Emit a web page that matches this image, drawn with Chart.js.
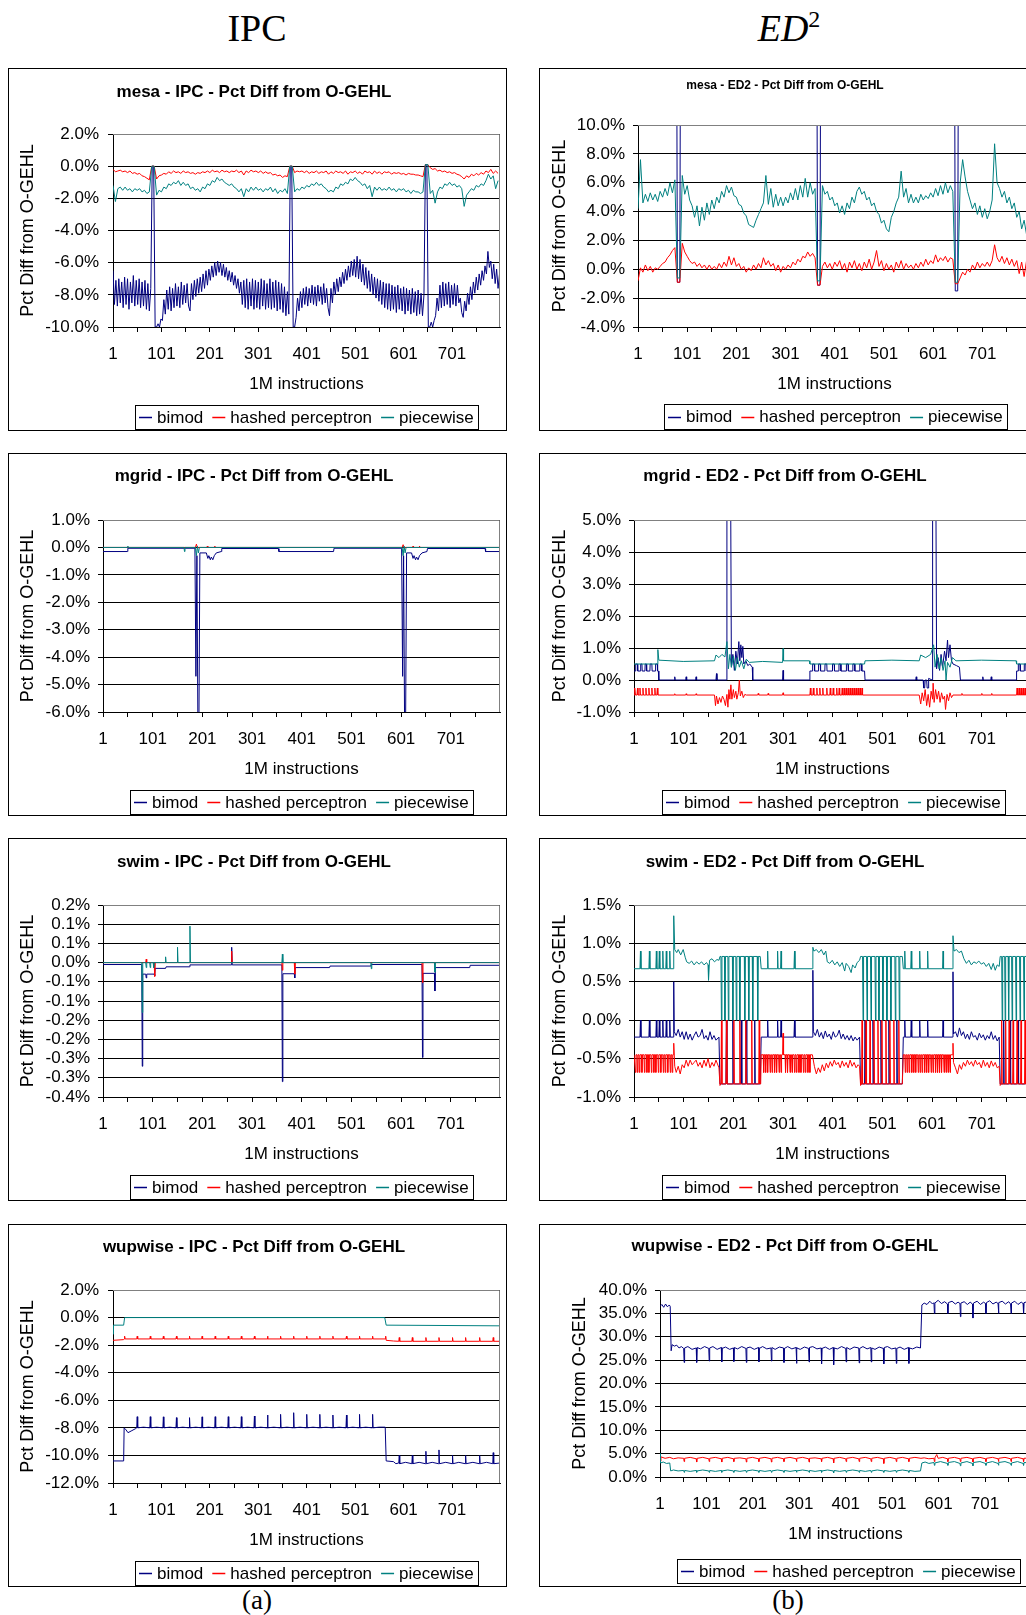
<!DOCTYPE html>
<html><head><meta charset="utf-8"><title>Pct Diff from O-GEHL</title>
<script src="https://cdn.jsdelivr.net/npm/chart.js@4.4.1/dist/chart.umd.min.js"></script>
<style>
html,body{margin:0;padding:0;background:#fff;width:1026px;height:1615px;overflow:hidden;position:relative;}
.hdr{position:absolute;width:514px;text-align:center;font-family:"Liberation Serif","DejaVu Serif",serif;color:#000;}
.frame{position:absolute;box-sizing:border-box;border:1px solid #000;pointer-events:none;}
canvas{position:absolute;}
</style></head><body>
<div class="hdr" style="left:0;top:6px;font-size:38px;line-height:44px;">IPC</div>
<div class="hdr" style="left:532px;top:6px;font-size:38px;line-height:44px;"><i>ED</i><span style="font-size:24px;position:relative;top:-14px;">2</span></div>
<div class="hdr" style="left:0;top:1585px;font-size:27px;line-height:30px;">(a)</div>
<div class="hdr" style="left:531px;top:1585px;font-size:27px;line-height:30px;">(b)</div>
<script>
// ---------------- shared categories / ticks ----------------
const seriesNames = ['bimod', 'hashed perceptron', 'piecewise'];
const colors = ['#000080', '#FF0000', '#008080'];
const xTickValues = [1,51,101,151,201,251,301,351,401,451,501,551,601,651,701,751];
const xTickLabels = ['1','','101','','201','','301','','401','','501','','601','','701',''];

// ---------------- mesa (sampled every 5 intervals) ----------------
const mesaX = [1,6,11,16,21,26,31,36,41,46,51,56,61,66,71,76,81,86,91,96,101,106,111,116,121,126,131,136,141,146,151,156,161,166,171,176,181,186,191,196,201,206,211,216,221,226,231,236,241,246,251,256,261,266,271,276,281,286,291,296,301,306,311,316,321,326,331,336,341,346,351,356,361,366,371,376,381,386,391,396,401,406,411,416,421,426,431,436,441,446,451,456,461,466,471,476,481,486,491,496,501,506,511,516,521,526,531,536,541,546,551,556,561,566,571,576,581,586,591,596,601,606,611,616,621,626,631,636,641,646,651,656,661,666,671,676,681,686,691,696,701,706,711,716,721,726,731,736,741,746,751,756,761,766,771,776,781,786,791,796];

const mesaIpcYTicks = [-10,-8,-6,-4,-2,0,2];
const mesaIpcYLabels = ['-10.0%','-8.0%','-6.0%','-4.0%','-2.0%','0.0%','2.0%'];
// bimod read every 3 intervals ([instruction, value])
const mesaIpcBimod = [[1,-6.5],[4,-8.6],[7,-7.1],[10,-8.7],[13,-7.0],[16,-8.5],[19,-7.2],[22,-8.8],[25,-6.9],[28,-8.6],[31,-7.0],[34,-8.9],[37,-7.2],[40,-8.5],[43,-6.8],[46,-8.7],[49,-7.1],[52,-8.6],[55,-7.0],[58,-8.8],[61,-7.2],[64,-8.7],[67,-7.1],[70,-8.9],[73,-7.3],[76,-9.0],[79,-7.6],[82,0],[85,0],[88,-10],[91,-10],[94,-9.8],[97,-10],[100,-9.5],
[103,-9.6],[106,-8.3],[109,-9.2],[112,-7.7],[115,-8.9],[118,-7.5],[121,-9.0],[124,-7.6],[127,-8.8],[130,-7.3],[133,-8.7],[136,-7.5],[139,-8.8],[142,-7.2],[145,-8.6],[148,-7.4],[151,-8.5],[154,-7.3],[157,-8.7],[160,-9.0],[163,-7.3],[166,-8.3],[169,-7.1],[172,-8.1],[175,-7.0],[178,-7.9],[181,-6.9],[184,-7.8],[187,-6.7],[190,-7.6],[193,-6.5],[196,-7.4],[199,-6.4],
[202,-7.1],[205,-6.2],[208,-6.9],[211,-6.0],[214,-6.8],[217,-5.9],[220,-6.6],[223,-6.0],[226,-6.8],[229,-6.1],[232,-6.9],[235,-6.3],[238,-7.1],[241,-6.5],[244,-7.2],[247,-6.6],[250,-7.4],[253,-6.8],[256,-7.6],[259,-7.0],[262,-7.9],[265,-7.2],[268,-8.6],[271,-7.1],[274,-8.8],[277,-7.0],[280,-8.9],[283,-7.2],[286,-8.7],[289,-7.0],[292,-8.9],[295,-7.1],[298,-8.8],
[301,-7.2],[304,-8.9],[307,-7.0],[310,-8.7],[313,-7.1],[316,-8.9],[319,-7.3],[322,-8.8],[325,-7.0],[328,-8.9],[331,-7.2],[334,-8.8],[337,-7.1],[340,-9.0],[343,-7.2],[346,-8.9],[349,-7.3],[352,-9.1],[355,-7.5],[358,-9.3],[361,-7.8],[364,-9.2],[367,0],[370,0],[373,-10],[376,-10],[379,-9.4],[382,-8.2],[385,-9.0],[388,-7.8],[391,-8.8],[394,-7.6],[397,-8.6],
[400,-7.5],[403,-8.7],[406,-7.6],[409,-8.5],[412,-7.4],[415,-8.6],[418,-7.5],[421,-8.7],[424,-7.4],[427,-8.4],[430,-7.5],[433,-8.6],[436,-7.3],[439,-8.5],[442,-7.6],[445,-8.8],[448,-9.3],[451,-7.6],[454,-8.5],[457,-7.2],[460,-8.0],[463,-7.0],[466,-7.8],[469,-6.9],[472,-7.5],[475,-6.6],[478,-7.3],[481,-6.4],[484,-7.1],[487,-6.2],[490,-6.9],[493,-5.9],[496,-6.8],[499,-5.8],
[502,-6.9],[505,-5.6],[508,-7.0],[511,-5.8],[514,-7.2],[517,-6.1],[520,-7.4],[523,-6.3],[526,-7.6],[529,-6.5],[532,-7.8],[535,-6.7],[538,-8.0],[541,-6.9],[544,-8.2],[547,-7.0],[550,-8.4],[553,-7.1],[556,-8.6],[559,-7.2],[562,-8.8],[565,-7.3],[568,-8.9],[571,-7.3],[574,-9.0],[577,-7.4],[580,-8.9],[583,-7.5],[586,-9.1],[589,-7.4],[592,-8.9],[595,-7.6],[598,-9.0],
[601,-7.5],[604,-9.2],[607,-7.6],[610,-9.0],[613,-7.7],[616,-9.2],[619,-7.6],[622,-9.1],[625,-7.8],[628,-9.3],[631,-7.7],[634,-9.2],[637,-7.9],[640,-9.3],[643,-8.0],[646,0.1],[649,0.1],[652,-10],[655,-10],[658,-9.7],[661,-10],[664,-9.6],[667,-9.3],[670,-8.2],[673,-9.0],[676,-7.4],[679,-8.8],[682,-7.2],[685,-8.7],[688,-7.3],[691,-8.6],[694,-7.2],[697,-8.8],
[700,-7.4],[703,-8.6],[706,-7.3],[709,-8.7],[712,-7.4],[715,-8.5],[718,-8.2],[721,-9.1],[724,-9.4],[727,-8.4],[730,-9.0],[733,-7.9],[736,-8.6],[739,-7.5],[742,-8.3],[745,-7.2],[748,-7.9],[751,-6.9],[754,-7.7],[757,-6.7],[760,-7.4],[763,-6.5],[766,-7.1],[769,-6.2],[772,-6.7],[775,-5.3],[778,-6.3],[781,-5.9],[784,-7.0],[787,-6.1],[790,-7.3],[793,-6.4],[796,-7.6],[799,-6.7]];
const mesaIpcHashed = [
-0.2,-0.35,-0.3,-0.25,-0.35,-0.3,-0.4,-0.3,-0.45,-0.4,
-0.5,-0.45,-0.6,-0.65,-0.75,-0.85,0,0,-0.8,-0.6,
-0.55,-0.45,-0.5,-0.35,-0.45,-0.3,-0.4,-0.35,-0.45,-0.3,
-0.4,-0.35,-0.45,-0.4,-0.5,-0.4,-0.45,-0.35,-0.4,-0.3,
-0.4,-0.25,-0.35,-0.3,-0.4,-0.25,-0.35,-0.3,-0.4,-0.3,
-0.35,-0.25,-0.4,-0.3,-0.55,-0.3,-0.4,-0.25,-0.35,-0.3,
-0.4,-0.3,-0.45,-0.35,-0.45,-0.4,-0.55,-0.5,-0.6,-0.55,
-0.7,-0.6,-0.65,0,0,-0.4,-0.3,-0.35,-0.3,-0.4,
-0.3,-0.45,-0.35,-0.4,-0.3,-0.45,-0.35,-0.4,-0.3,-0.5,
-0.35,-0.45,-0.3,-0.4,-0.35,-0.45,-0.3,-0.5,-0.35,-0.4,
-0.3,-0.45,-0.35,-0.5,-0.3,-0.4,-0.35,-0.5,-0.3,-0.45,
-0.35,-0.5,-0.35,-0.4,-0.35,-0.5,-0.4,-0.45,-0.4,-0.5,
-0.45,-0.55,-0.45,-0.5,-0.5,-0.55,-0.55,-0.6,-0.65,0.1,
0.1,-0.1,-0.2,-0.15,-0.3,-0.25,-0.35,-0.3,-0.4,-0.35,
-0.45,-0.4,-0.5,-0.55,-0.65,-0.8,-0.6,-0.7,-0.5,-0.6,
-0.45,-0.55,-0.4,-0.5,-0.3,-0.4,-0.2,-0.45,-0.3,-0.45];
const mesaIpcPiecewise = [
-1.2,-2.2,-1.4,-1.3,-1.5,-1.3,-1.5,-1.4,-1.6,-1.4,
-1.5,-1.4,-1.6,-1.5,-1.7,-1.6,0,0,-1.8,-1.5,
-1.6,-1.3,-1.4,-1.1,-1.2,-1.0,-1.1,-0.9,-1.2,-1.0,
-1.2,-1.1,-1.4,-1.3,-1.5,-1.4,-1.6,-1.3,-1.4,-1.1,
-1.2,-0.9,-1.0,-0.7,-0.9,-0.8,-1.0,-1.1,-1.2,-1.1,
-1.3,-1.4,-1.6,-1.4,-1.9,-1.4,-1.6,-1.3,-1.5,-1.3,
-1.5,-1.4,-1.6,-1.4,-1.5,-1.3,-1.6,-1.4,-1.7,-1.5,
-1.6,-1.4,-1.7,0,0,-1.6,-1.4,-1.5,-1.3,-1.4,
-1.2,-1.3,-1.1,-1.2,-1.0,-1.2,-1.1,-1.3,-1.4,-1.6,
-1.5,-1.6,-1.3,-1.4,-1.1,-1.2,-1.0,-1.1,-0.8,-0.9,
-0.7,-0.9,-1.0,-1.2,-1.1,-1.4,-1.2,-1.9,-1.3,-1.5,
-1.3,-1.5,-1.4,-1.5,-1.3,-1.5,-1.4,-1.6,-1.4,-1.5,
-1.4,-1.6,-1.5,-1.7,-1.5,-1.6,-1.6,-1.7,-1.6,0.1,
0.1,-1.7,-1.5,-2.3,-1.6,-1.3,-1.4,-1.1,-1.2,-1.0,
-1.2,-1.1,-1.3,-1.2,-1.4,-2.5,-1.8,-1.6,-1.4,-1.5,
-1.2,-1.3,-1.1,-1.2,-0.9,-0.5,-0.8,-0.6,-1.4,-0.9];

const mesaEd2YTicks = [-4,-2,0,2,4,6,8,10];
const mesaEd2YLabels = ['-4.0%','-2.0%','0.0%','2.0%','4.0%','6.0%','8.0%','10.0%'];
const mesaEd2Bimod = [[1,25],[79,25],[81,-0.9],[86,-0.9],[88,25],[364,25],[366,-1.1],[371,-1.1],[373,25],[644,25],[646,-1.5],[651,-1.5],[653,25],[800,25]];
const mesaEd2Hashed = [
-0.8,0.1,-0.2,0.3,-0.1,0.2,-0.2,0.1,0.0,0.2,
0.4,0.5,0.8,1.0,1.3,1.5,-0.9,-0.9,1.8,1.2,
0.9,0.6,0.4,0.5,0.2,0.4,0.1,0.3,0.0,0.3,
0.0,0.2,0.0,0.4,0.1,0.5,0.2,0.9,0.3,0.8,
0.2,0.4,0.0,0.2,-0.2,0.1,-0.1,0.3,0.0,0.4,
0.1,0.8,0.3,0.6,0.2,0.4,-0.1,0.3,-0.2,0.2,
0.0,0.3,0.1,0.5,0.3,0.7,0.5,0.9,0.8,1.2,
0.9,1.1,0.8,-1.1,-1.1,0.2,0.5,0.1,0.4,0.0,
0.5,0.2,0.6,0.0,0.4,-0.2,0.5,0.1,0.6,0.0,
0.4,-0.1,0.5,0.1,0.7,0.0,0.5,1.3,0.2,0.6,
-0.1,0.4,0.0,0.3,-0.2,0.5,0.1,0.6,0.0,0.4,
0.1,0.3,0.0,0.4,0.1,0.5,0.2,0.7,0.3,0.6,
0.4,1.0,0.5,0.8,0.6,0.9,0.5,0.8,0.7,-1.0,
-1.0,-0.6,-0.2,-0.4,0.0,-0.2,0.3,0.0,0.5,0.1,
0.4,0.2,0.5,0.2,0.6,1.7,0.8,0.5,0.9,0.4,
0.8,0.3,0.7,0.2,0.6,-0.3,0.5,-0.5,0.6,0.1];
const mesaEd2Piecewise = [
4.2,7.6,4.6,5.2,4.7,5.3,4.8,5.2,4.7,5.4,
5.0,5.6,5.1,6.0,5.3,6.2,-0.6,-0.6,6.5,5.2,
5.8,4.8,4.4,3.6,4.4,3.0,4.3,3.4,4.6,3.8,
4.8,4.2,5.0,4.6,5.4,5.0,5.8,5.3,5.7,5.1,
5.0,4.5,4.4,3.9,3.7,3.1,3.0,2.9,3.4,3.8,
4.2,4.6,6.5,4.5,5.6,4.3,5.2,4.4,5.0,4.4,
5.0,4.6,5.3,4.8,5.6,4.8,5.8,5.0,6.3,5.0,
6.0,5.2,5.6,-0.8,-0.8,5.8,5.2,5.4,4.8,5.0,
4.4,4.6,3.9,4.4,3.8,4.6,4.2,5.0,4.6,5.4,
5.7,5.2,5.4,4.8,5.0,4.4,4.6,4.0,3.8,3.2,
3.4,2.8,2.6,3.6,4.0,4.6,5.0,6.8,5.0,5.6,
4.6,5.2,4.6,5.0,4.6,5.2,4.8,5.1,4.9,5.3,
5.0,5.6,5.1,5.8,5.2,6.0,5.3,5.8,5.4,-0.9,
-0.9,6.0,7.6,6.4,5.4,4.8,4.2,4.6,3.8,4.4,
3.6,4.2,3.5,4.0,4.8,8.7,6.0,5.6,5.0,5.4,
4.6,5.0,4.2,4.6,3.6,4.0,2.8,3.4,2.4,4.5];

// ---------------- mgrid ----------------
const mgridIpcYTicks = [-6,-5,-4,-3,-2,-1,0,1];
const mgridIpcYLabels = ['-6.0%','-5.0%','-4.0%','-3.0%','-2.0%','-1.0%','0.0%','1.0%'];
const mgridIpcBimod = [[1,-0.15],[50,-0.15],[51,-0.03],[186,-0.03],[188,-4.7],[190,-0.3],[192,-6.5],[194,-6.5],[196,-0.2],[209,-0.2],[212,-0.4],[214,-0.3],[217,-0.45],[219,-0.35],[222,-0.45],[225,-0.3],[229,-0.2],[239,-0.15],[240,-0.04],[354,-0.04],[355,-0.15],[465,-0.15],[466,-0.03],[602,-0.03],[604,-4.7],[606,-0.3],[608,-6.5],[610,-6.5],[612,-0.2],[622,-0.2],[625,-0.4],[627,-0.3],[630,-0.45],[632,-0.35],[635,-0.45],[638,-0.3],[643,-0.2],[653,-0.15],[654,-0.04],[770,-0.04],[771,-0.15],[800,-0.15]];
const mgridIpcHashed = [[1,0],[187,0],[189,0.12],[191,0],[210,0],[211,0.05],[212,0],[225,0],[226,0.05],[227,0],[603,0],[605,0.1],[607,0],[624,0],[625,0.05],[626,0],[637,0],[638,0.05],[639,0],[800,0]];
const mgridIpcPiecewise = [[1,0],[50,0],[51,0.05],[52,0],[164,0],[165,-0.15],[166,0],[187,0],[189,-0.3],[191,0.05],[193,-0.2],[195,0],[603,0],[605,-0.3],[607,0.05],[609,-0.2],[611,0],[800,0]];

const mgridEd2YTicks = [-1,0,1,2,3,4,5];
const mgridEd2YLabels = ['-1.0%','0.0%','1.0%','2.0%','3.0%','4.0%','5.0%'];
const mgridEd2Bimod = [[1,0.28],[4,0.28],[4.5,0.5],[8,0.5],[8.5,0.28],[14,0.28],[14.5,0.5],[17,0.5],[17.5,0.28],[23,0.28],[23.5,0.5],[26,0.5],[26.5,0.28],[33,0.28],[33.5,0.5],[37,0.5],[37.5,0.28],[44,0.28],[44.5,0.5],[48,0.5],[48.5,0.28],[50,0.28],[51,0],
[82,0],[83,0.1],[84,0],[105,0],[106,0.1],[107,0],[125,0],[126,0.1],[127,0],[166,0],[167,0.2],[168,0],[187,0],[188,8],[195,8],[197,0.4],[200,0.8],[203,0.3],[206,0.9],[209,0.5],[212,1.2],[214,0.6],[216,1.1],[218,0.7],[220,1.05],[222,0.5],[226,0.6],[230,0.45],[234,0.5],[239,0.4],[240,0],[300,0],[301,0.3],[302,0],[354,0],[355,0.28],
[360,0.28],[360.5,0.5],[364,0.5],[364.5,0.28],[372,0.28],[372.5,0.5],[376,0.5],[376.5,0.28],[385,0.28],[385.5,0.5],[389,0.5],[389.5,0.28],[400,0.28],[400.5,0.5],[404,0.5],[404.5,0.28],[413,0.28],[413.5,0.5],[417,0.5],[417.5,0.28],[428,0.28],[428.5,0.5],[432,0.5],[432.5,0.28],[441,0.28],[441.5,0.5],[445,0.5],[445.5,0.28],[455,0.28],[455.5,0.5],[459,0.5],[459.5,0.28],[465,0.28],[466,0],
[568,0],[569,0.1],[570,0],[583,0],[584,-0.25],[586,-0.25],[587,0],[590,0],[591,-0.25],[593,-0.25],[594,0.05],[601,0],[602,8],[608,8],[610,0.35],[613,0.7],[616,0.3],[619,0.8],[622,0.4],[626,0.9],[629,0.6],[632,1.25],[634,0.7],[637,1.1],[640,0.6],[643,0.5],[650,0.45],[656,0.4],[658,0],[702,0],[703,0.1],[704,0],[719,0],[720,0.1],[721,0],[770,0],[771,0.28],[774,0.28],[774.5,0.5],[778,0.5],[778.5,0.28],[786,0.28],[786.5,0.5],[790,0.5],[790.5,0.28],[796,0.28],[796.5,0.5],[800,0.5]];
const mgridEd2Hashed = [[1,-0.47],[2,-0.47],[3,-0.25],[4,-0.47],[7,-0.47],[8,-0.25],[9,-0.47],[12,-0.47],[13,-0.25],[14,-0.47],[18,-0.47],[19,-0.25],[20,-0.47],[24,-0.47],[25,-0.25],[26,-0.47],[30,-0.47],[31,-0.25],[32,-0.47],[36,-0.47],[37,-0.25],[38,-0.47],[42,-0.47],[43,-0.25],[44,-0.47],[47,-0.47],[48,-0.25],[49,-0.47],
[82,-0.47],[83,-0.43],[84,-0.47],[105,-0.47],[106,-0.43],[107,-0.47],[125,-0.47],[126,-0.43],[127,-0.47],[163,-0.47],[165,-0.8],[167,-0.5],[170,-0.75],[173,-0.55],[176,-0.7],[179,-0.5],[182,-0.6],[185,-0.8],[188,-0.45],[190,-0.85],[192,-0.3],[194,-0.6],[196,-0.15],[198,-0.6],[201,-0.3],[203,-0.55],[206,-0.35],[208,-0.6],[211,-0.4],[213,0.0],[215,-0.5],[218,-0.35],[221,-0.55],[224,-0.45],[227,-0.47],[250,-0.47],[251,-0.42],[252,-0.47],[270,-0.47],[271,-0.42],[272,-0.47],[300,-0.47],[301,-0.4],[302,-0.47],
[355,-0.47],[356,-0.25],[357,-0.47],[361,-0.47],[362,-0.25],[363,-0.47],[368,-0.47],[369,-0.25],[370,-0.47],[374,-0.47],[375,-0.25],[376,-0.47],[380,-0.47],[381,-0.25],[382,-0.47],[388,-0.47],[389,-0.25],[390,-0.47],[395,-0.47],[396,-0.25],[397,-0.47],[401,-0.47],[402,-0.25],[403,-0.47],[408,-0.47],[409,-0.25],[410,-0.47],[413,-0.47],[414,-0.25],[415,-0.47],[419,-0.47],[420,-0.25],[421,-0.47],[423,-0.47],[424,-0.25],[425,-0.47],[427,-0.47],[428,-0.25],[429,-0.47],[431,-0.47],[432,-0.25],[433,-0.47],[435,-0.47],[436,-0.25],[437,-0.47],[439,-0.47],[440,-0.25],[441,-0.47],[443,-0.47],[444,-0.25],[445,-0.47],[447,-0.47],[448,-0.25],[449,-0.47],[451,-0.47],[452,-0.25],[453,-0.47],[455,-0.47],[456,-0.25],[457,-0.47],[459,-0.47],[460,-0.25],[461,-0.47],
[575,-0.47],[578,-0.75],[581,-0.4],[584,-0.65],[587,-0.3],[590,-0.8],[593,-0.45],[596,-0.85],[599,-0.35],[602,-0.6],[603,-0.1],[605,-0.7],[608,-0.3],[611,-0.6],[614,-0.35],[617,-0.7],[620,-0.4],[623,-0.6],[626,-0.5],[628,-0.92],[631,-0.45],[634,-0.65],[637,-0.4],[640,-0.55],[643,-0.47],[660,-0.47],[661,-0.42],[662,-0.47],[700,-0.47],[701,-0.42],[702,-0.47],[720,-0.47],[721,-0.42],[722,-0.47],
[771,-0.47],[772,-0.25],[773,-0.47],[775,-0.47],[776,-0.25],[777,-0.47],[779,-0.47],[780,-0.25],[781,-0.47],[783,-0.47],[784,-0.25],[785,-0.47],[787,-0.47],[788,-0.25],[789,-0.47],[791,-0.47],[792,-0.25],[793,-0.47],[795,-0.47],[796,-0.25],[797,-0.47],[800,-0.47]];
const mgridEd2Piecewise = [[1,0.5],[48,0.5],[49,0.95],[51,0.62],[100,0.58],[163,0.6],[166,0.78],[172,0.7],[178,0.8],[184,0.72],[188,1.2],[191,0.35],[194,0.8],[197,0.4],[201,0.75],[205,0.3],[209,0.7],[213,0.4],[217,0.6],[222,0.35],[227,0.65],[233,0.55],[260,0.58],[300,0.55],[301,0.98],[302,0.6],[354,0.6],[355,0.5],[465,0.5],[466,0.6],[520,0.62],[575,0.6],[578,0.78],[588,0.7],[598,0.8],[604,1.1],[607,0.4],[611,0.8],[615,0.35],[619,0.7],[623,0.3],[627,0.6],[629,0.0],[632,0.55],[637,0.4],[642,0.7],[649,0.6],[700,0.62],[770,0.6],[771,0.5],[800,0.5]];

// ---------------- swim ----------------
const swimIpcYTicks = [-0.35,-0.3,-0.25,-0.2,-0.15,-0.1,-0.05,0,0.05,0.1,0.15];
const swimIpcYLabels = ['-0.4%','-0.3%','-0.3%','-0.2%','-0.2%','-0.1%','-0.1%','0.0%','0.1%','0.1%','0.2%'];
const swimIpcBimod = [[1,-0.005],[79,-0.005],[80,-0.27],[81,-0.03],[87,-0.03],[88,-0.04],[89,-0.03],[104,-0.03],[105,-0.035],[106,-0.015],[127,-0.015],[128,-0.011],[175,-0.011],[176,-0.006],[259,-0.006],[260,0.04],[261,-0.006],[361,-0.006],[362,-0.31],[363,-0.029],[386,-0.029],[387,-0.04],[388,-0.013],[457,-0.013],[458,-0.009],[540,-0.009],[541,-0.005],[643,-0.005],[644,-0.247],[645,-0.028],[668,-0.028],[669,-0.074],[670,-0.013],[739,-0.013],[740,-0.007],[800,-0.007]];
const swimIpcHashed = [[1,0],[87,0],[88,0.009],[89,0],[104,0],[105,-0.036],[106,0],[259,0],[260,0.03],[261,0],[361,0],[362,-0.02],[363,0],[386,0],[387,-0.03],[388,0],[643,0],[644,-0.052],[645,0],[800,0]];
const swimIpcPiecewise = [[1,0],[79,0],[80,-0.13],[81,0],[87,0],[88,-0.013],[89,0],[95,0],[96,-0.013],[97,0],[102,0],[103,-0.013],[104,0],[126,0],[127,0.015],[128,0],[150,0],[151,0.04],[152,0],[175,0],[176,0.095],[177,0],[361,0],[362,0.022],[363,0],[540,0],[541,-0.016],[542,0],[668,0],[669,-0.025],[670,0],[800,0]];

const swimEd2YTicks = [-1,-0.5,0,0.5,1,1.5];
const swimEd2YLabels = ['-1.0%','-0.5%','0.0%','0.5%','1.0%','1.5%'];
const swimEd2Bimod = [[1,-0.22],[13,-0.22],[14,0],[15,-0.22],[31,-0.22],[32,0],[33,-0.22],[45,-0.22],[46,0],[47,-0.22],[51,-0.22],[52,0],[53,-0.22],[58,-0.22],[59,0],[60,-0.22],[65,-0.22],[66,0],[67,-0.22],[72,-0.22],[73,0],[74,-0.22],[80,-0.22],[81,0.5],[82,-0.15],
[86,-0.2],[90,-0.12],[94,-0.22],[98,-0.15],[102,-0.25],[106,-0.15],[110,-0.25],[114,-0.18],[118,-0.26],[122,-0.2],[126,-0.15],[130,-0.22],[134,-0.2],[138,-0.12],[142,-0.24],[146,-0.2],[150,-0.26],[154,-0.15],[158,-0.25],[162,-0.2],[166,-0.26],[172,-0.22],
[174,-0.83],[186,-0.83],[187,0],[188,-0.83],[199,-0.83],[200,0],[201,-0.83],[216,-0.83],[217,0],[218,-0.83],[226,-0.83],[227,0],[228,-0.83],[243,-0.83],[244,0],[245,-0.83],[255,-0.83],[257,-0.22],
[269,-0.22],[270,0],[271,-0.22],[289,-0.22],[290,0],[291,-0.22],[296,-0.22],[297,0],[298,-0.22],[323,-0.22],[324,0],[325,-0.22],[360,-0.22],[361,0.65],[362,-0.15],
[366,-0.2],[370,-0.12],[374,-0.22],[378,-0.16],[382,-0.24],[386,-0.14],[390,-0.22],[394,-0.18],[398,-0.25],[402,-0.15],[406,-0.22],[410,-0.2],[414,-0.13],[418,-0.24],[422,-0.18],[426,-0.25],[430,-0.2],[434,-0.26],[438,-0.2],[442,-0.27],[446,-0.22],[450,-0.26],[455,-0.22],
[457,-0.83],[465,-0.83],[466,0],[467,-0.83],[481,-0.83],[482,0],[483,-0.83],[497,-0.83],[498,0],[499,-0.83],[513,-0.83],[514,0],[515,-0.83],[529,-0.83],[530,0],[531,-0.83],[541,-0.83],[543,-0.22],
[545,-0.22],[546,0],[547,-0.22],[558,-0.22],[559,0],[560,-0.22],[575,-0.22],[576,0],[577,-0.22],[591,-0.22],[592,0],[593,-0.22],[622,-0.22],[623,0],[624,-0.22],[642,-0.22],[643,0.63],[644,-0.18],
[648,-0.15],[652,-0.22],[656,-0.1],[660,-0.2],[664,-0.15],[668,-0.24],[672,-0.18],[676,-0.25],[680,-0.15],[684,-0.22],[688,-0.2],[692,-0.26],[696,-0.17],[700,-0.23],[704,-0.19],[708,-0.26],[712,-0.2],[716,-0.24],[720,-0.15],[724,-0.25],[728,-0.2],[732,-0.27],[736,-0.22],
[738,-0.83],[744,-0.83],[745,0],[746,-0.83],[757,-0.83],[758,0],[759,-0.83],[773,-0.83],[774,0],[775,-0.83],[789,-0.83],[790,0],[791,-0.83],[800,-0.83]];
const swimEd2Hashed = [[1,-0.45],[3,-0.45],[4,-0.68],[5,-0.45],[7,-0.45],[8,-0.68],[9,-0.45],[11,-0.45],[12,-0.68],[13,-0.45],[16,-0.45],[17,-0.68],[18,-0.45],[21,-0.45],[22,-0.68],[23,-0.45],[26,-0.45],[27,-0.68],[28,-0.45],[30,-0.45],[31,-0.68],[32,-0.45],[35,-0.45],[36,-0.68],[37,-0.45],[40,-0.45],[41,-0.68],[42,-0.45],[44,-0.45],[45,-0.68],[46,-0.45],[49,-0.45],[50,-0.68],[51,-0.45],[54,-0.45],[55,-0.68],[56,-0.45],[59,-0.45],[60,-0.68],[61,-0.45],[63,-0.45],[64,-0.68],[65,-0.45],[68,-0.45],[69,-0.68],[70,-0.45],[73,-0.45],[74,-0.68],[75,-0.45],[77,-0.45],[78,-0.68],[79,-0.45],[80,-0.45],[81,-0.3],[83,-0.6],
[86,-0.68],[90,-0.6],[94,-0.7],[98,-0.58],[102,-0.62],[106,-0.52],[110,-0.6],[114,-0.52],[118,-0.58],[122,-0.55],[126,-0.52],[130,-0.6],[134,-0.55],[138,-0.62],[142,-0.52],[146,-0.6],[150,-0.5],[154,-0.62],[158,-0.55],[162,-0.6],[166,-0.52],[172,-0.62],
[174,-0.85],[176,-0.83],[177,0],[178,-0.83],[186,-0.83],[187,0],[188,-0.83],[201,-0.83],[202,0],[203,-0.83],[213,-0.83],[214,0],[215,-0.83],[225,-0.83],[226,0],[227,-0.83],[237,-0.83],[238,0],[239,-0.83],[252,-0.83],[253,0],[254,-0.83],[256,-0.83],[257,-0.45],
[261,-0.45],[262,-0.68],[263,-0.45],[265,-0.45],[266,-0.68],[267,-0.45],[269,-0.45],[270,-0.68],[271,-0.45],[274,-0.45],[275,-0.68],[276,-0.45],[278,-0.45],[279,-0.68],[280,-0.45],[283,-0.45],[284,-0.68],[285,-0.45],[287,-0.45],[288,-0.68],[289,-0.45],[292,-0.45],[293,-0.68],[294,-0.45],[296,-0.45],[297,-0.68],[298,-0.45],[300,-0.45],[301,-0.17],[302,-0.45],[305,-0.45],[306,-0.68],[307,-0.45],[309,-0.45],[310,-0.68],[311,-0.45],[314,-0.45],[315,-0.68],[316,-0.45],[318,-0.45],[319,-0.68],[320,-0.45],[323,-0.45],[324,-0.68],[325,-0.45],[327,-0.45],[328,-0.68],[329,-0.45],[332,-0.45],[333,-0.68],[334,-0.45],[336,-0.45],[337,-0.68],[338,-0.45],[341,-0.45],[342,-0.68],[343,-0.45],[345,-0.45],[346,-0.68],[347,-0.45],[350,-0.45],[351,-0.68],[352,-0.45],[354,-0.45],[355,-0.68],[356,-0.45],[360,-0.45],
[364,-0.6],[368,-0.7],[372,-0.62],[376,-0.68],[380,-0.58],[384,-0.66],[388,-0.56],[392,-0.62],[396,-0.54],[400,-0.6],[404,-0.52],[408,-0.58],[412,-0.55],[416,-0.62],[420,-0.53],[424,-0.6],[428,-0.55],[432,-0.62],[436,-0.52],[440,-0.6],[444,-0.55],[448,-0.62],[452,-0.58],[455,-0.6],
[457,-0.85],[459,-0.83],[460,0],[461,-0.83],[467,-0.83],[468,0],[469,-0.83],[475,-0.83],[476,0],[477,-0.83],[483,-0.83],[484,0],[485,-0.83],[491,-0.83],[492,0],[493,-0.83],[499,-0.83],[500,0],[501,-0.83],[507,-0.83],[508,0],[509,-0.83],[515,-0.83],[516,0],[517,-0.83],[523,-0.83],[524,0],[525,-0.83],[533,-0.83],[534,0],[535,-0.83],[541,-0.83],[543,-0.45],
[546,-0.45],[547,-0.68],[548,-0.45],[550,-0.45],[551,-0.68],[552,-0.45],[554,-0.45],[555,-0.68],[556,-0.45],[559,-0.45],[560,-0.68],[561,-0.45],[563,-0.45],[564,-0.68],[565,-0.45],[567,-0.45],[568,-0.68],[569,-0.45],[572,-0.45],[573,-0.68],[574,-0.45],[576,-0.45],[577,-0.68],[578,-0.45],[580,-0.45],[581,-0.68],[582,-0.45],[585,-0.45],[586,-0.68],[587,-0.45],[589,-0.45],[590,-0.68],[591,-0.45],[593,-0.45],[594,-0.68],[595,-0.45],[598,-0.45],[599,-0.68],[600,-0.45],[602,-0.45],[603,-0.68],[604,-0.45],[607,-0.45],[608,-0.68],[609,-0.45],[611,-0.45],[612,-0.68],[613,-0.45],[615,-0.45],[616,-0.68],[617,-0.45],[619,-0.45],[620,-0.68],[621,-0.45],[624,-0.45],[625,-0.68],[626,-0.45],[628,-0.45],[629,-0.68],[630,-0.45],[632,-0.45],[633,-0.68],[634,-0.45],[636,-0.45],[637,-0.68],[638,-0.45],[642,-0.45],[643,-0.3],[644,-0.55],
[648,-0.62],[652,-0.7],[656,-0.58],[660,-0.64],[664,-0.55],[668,-0.6],[672,-0.52],[676,-0.58],[680,-0.54],[684,-0.6],[688,-0.52],[692,-0.58],[696,-0.55],[700,-0.62],[704,-0.52],[708,-0.6],[712,-0.55],[716,-0.62],[720,-0.53],[724,-0.6],[728,-0.55],[732,-0.62],[736,-0.6],
[738,-0.85],[740,-0.83],[741,0],[742,-0.83],[748,-0.83],[749,0],[750,-0.83],[755,-0.83],[756,0],[757,-0.83],[763,-0.83],[764,0],[765,-0.83],[771,-0.83],[772,0],[773,-0.83],[779,-0.83],[780,0],[781,-0.83],[787,-0.83],[788,0],[789,-0.83],[795,-0.83],[796,0],[797,-0.83],[800,-0.83]];
const swimEd2Piecewise = [[1,0.67],[13,0.67],[14,0.9],[15,0.67],[31,0.67],[32,0.9],[33,0.67],[45,0.67],[46,0.9],[47,0.67],[51,0.67],[52,0.9],[53,0.67],[58,0.67],[59,0.9],[60,0.67],[65,0.67],[66,0.9],[67,0.67],[72,0.67],[73,0.9],[74,0.67],[80,0.67],[81,1.36],
[83,0.92],[87,0.88],[90,0.92],[95,0.85],[100,0.92],[104,0.82],[107,0.76],[112,0.74],[117,0.77],[122,0.72],[127,0.76],[132,0.73],[137,0.76],[142,0.72],[147,0.75],[150,0.72],[151,0.52],[153,0.78],[158,0.8],[163,0.76],[168,0.79],[172,0.78],
[174,0.83],[176,0.83],[177,0],[178,0.83],[183,0.83],[184,0],[185,0.83],[190,0.83],[191,0],[192,0.83],[199,0.83],[200,0],[201,0.83],[206,0.83],[207,0],[208,0.83],[213,0.83],[214,0],[215,0.83],[223,0.83],[224,0],[225,0.83],[231,0.83],[232,0],[233,0.83],[239,0.83],[240,0],[241,0.83],[249,0.83],[250,0],[251,0.83],[255,0.83],[257,0.67],
[269,0.67],[270,0.9],[271,0.67],[289,0.67],[290,0.9],[291,0.67],[296,0.67],[297,0.9],[298,0.67],[323,0.67],[324,0.9],[325,0.67],[360,0.67],
[361,0.95],[363,0.9],[368,0.92],[373,0.88],[378,0.92],[383,0.85],[387,0.9],[390,0.76],[395,0.74],[400,0.78],[405,0.72],[410,0.76],[415,0.7],[420,0.75],[425,0.64],[428,0.74],[433,0.7],[438,0.62],[441,0.72],[446,0.68],[450,0.75],[455,0.78],
[457,0.83],[461,0.83],[462,0],[463,0.83],[469,0.83],[470,0],[471,0.83],[477,0.83],[478,0],[479,0.83],[486,0.83],[487,0],[488,0.83],[493,0.83],[494,0],[495,0.83],[501,0.83],[502,0],[503,0.83],[509,0.83],[510,0],[511,0.83],[517,0.83],[518,0],[519,0.83],[526,0.83],[527,0],[528,0.83],[534,0.83],[535,0],[536,0.83],[541,0.83],[543,0.67],
[545,0.67],[546,0.9],[547,0.67],[558,0.67],[559,0.9],[560,0.67],[575,0.67],[576,0.9],[577,0.67],[591,0.67],[592,0.9],[593,0.67],[622,0.67],[623,0.9],[624,0.67],[642,0.67],
[643,1.1],[645,0.9],[650,0.92],[655,0.88],[660,0.9],[665,0.8],[670,0.74],[675,0.78],[680,0.72],[685,0.76],[690,0.74],[695,0.77],[700,0.73],[705,0.75],[710,0.7],[715,0.74],[720,0.66],[724,0.74],[728,0.65],[732,0.72],[736,0.7],
[738,0.83],[741,0.83],[742,0],[743,0.83],[747,0.83],[748,0],[749,0.83],[754,0.83],[755,0],[756,0.83],[761,0.83],[762,0],[763,0.83],[769,0.83],[770,0],[771,0.83],[777,0.83],[778,0],[779,0.83],[785,0.83],[786,0],[787,0.83],[793,0.83],[794,0],[795,0.83],[800,0.83]];

// ---------------- wupwise ----------------
const wupIpcYTicks = [-12,-10,-8,-6,-4,-2,0,2];
const wupIpcYLabels = ['-12.0%','-10.0%','-8.0%','-6.0%','-4.0%','-2.0%','0.0%','2.0%'];
const wupIpcBimod = [[1,-10.4],[23,-10.4],[24,-8.0],[27,-8.1],[32,-8.35],[40,-8.2],[48,-8.05],[50,-8.0],[51,-7.19],[52,-8.0],[64,-7.95],[77,-8.0],[78,-7.19],[79,-8.0],[91,-7.95],[104,-8.0],[105,-7.2],[106,-8.0],[118,-7.95],[131,-8.0],[132,-7.26],[133,-8.0],[145,-7.95],[158,-8.0],[159,-7.26],[160,-8.0],[172,-7.95],[184,-8.0],[185,-7.2],[186,-8.0],[198,-7.95],[211,-8.0],[212,-7.19],[213,-8.0],[225,-7.95],[238,-8.0],[239,-7.19],[240,-8.0],[252,-7.95],[265,-8.0],[266,-7.19],[267,-8.0],[279,-7.95],[292,-8.0],[293,-7.14],[294,-8.0],[306,-7.95],[319,-8.0],[320,-7.07],[321,-8.0],[333,-7.95],[346,-8.0],[347,-7.02],[348,-8.0],[360,-7.95],[373,-8.0],[374,-6.9],[375,-8.0],[387,-7.95],[400,-8.0],[401,-7.02],[402,-8.0],[414,-7.95],[427,-8.0],[428,-7.02],[429,-8.0],[441,-7.95],[454,-8.0],[455,-7.07],[456,-8.0],[468,-7.95],[482,-8.0],[483,-7.07],[484,-8.0],[496,-7.95],[509,-8.0],[510,-7.02],[511,-8.0],[523,-7.95],[536,-8.0],[537,-7.02],[538,-8.0],[550,-7.95],[563,-7.95],[565,-10.4],[580,-10.45],[585,-10.6],[591,-10.55],[592,-10.0],[593,-10.6],[605,-10.5],[618,-10.6],[619,-10.0],[620,-10.6],[633,-10.5],[646,-10.6],[647,-9.7],[648,-10.6],[660,-10.5],[673,-10.6],[674,-9.6],[675,-10.6],[688,-10.5],[701,-10.6],[702,-10.0],[703,-10.6],[715,-10.5],[728,-10.6],[729,-10.0],[730,-10.6],[744,-10.5],[757,-10.6],[758,-10.0],[759,-10.6],[772,-10.5],[785,-10.6],[786,-9.8],[787,-10.6],[800,-10.55]];
const wupIpcHashed = [[1,-1.65],[23,-1.6],[24,-1.55],[25,-1.35],[26,-1.55],[50,-1.55],[51,-1.35],[52,-1.55],[77,-1.55],[78,-1.35],[79,-1.55],[104,-1.55],[105,-1.35],[106,-1.55],[131,-1.55],[132,-1.35],[133,-1.55],[158,-1.55],[159,-1.35],[160,-1.55],[184,-1.55],[185,-1.35],[186,-1.55],[211,-1.55],[212,-1.35],[213,-1.55],[238,-1.55],[239,-1.35],[240,-1.55],[265,-1.55],[266,-1.35],[267,-1.55],[292,-1.55],[293,-1.35],[294,-1.55],[319,-1.55],[320,-1.35],[321,-1.55],[346,-1.55],[347,-1.35],[348,-1.55],[373,-1.55],[374,-1.35],[375,-1.55],[400,-1.55],[401,-1.35],[402,-1.55],[427,-1.55],[428,-1.35],[429,-1.55],[454,-1.55],[455,-1.35],[456,-1.55],[482,-1.55],[483,-1.35],[484,-1.55],[509,-1.55],[510,-1.35],[511,-1.55],[536,-1.55],[537,-1.35],[538,-1.55],[563,-1.55],[564,-1.35],[565,-1.65],[580,-1.7],[591,-1.72],[592,-1.45],[593,-1.72],[618,-1.72],[619,-1.45],[620,-1.72],[646,-1.72],[647,-1.45],[648,-1.72],[673,-1.72],[674,-1.45],[675,-1.72],[701,-1.72],[702,-1.45],[703,-1.72],[728,-1.72],[729,-1.45],[730,-1.72],[757,-1.72],[758,-1.45],[759,-1.72],[785,-1.72],[786,-1.45],[787,-1.72],[800,-1.72]];
const wupIpcPiecewise = [[1,-1.2],[2,-0.55],[23,-0.55],[25,0],[562,0],[565,-0.55],[800,-0.6]];

const wupEd2YTicks = [0,5,10,15,20,25,30,35,40];
const wupEd2YLabels = ['0.0%','5.0%','10.0%','15.0%','20.0%','25.0%','30.0%','35.0%','40.0%'];
const wupEd2Bimod = [[1,36.5],[5,36.9],[9,36.3],[13,37.0],[17,36.4],[21,36.8],[23,36.5],[25,27.0],[27,28.3],[32,28.0],[37,28.2],[42,27.6],[47,27.9],
[52,27.5],[53,24.5],[54,27.6],[61,27.9],[70,27.3],[79,27.6],[80,24.5],[81,27.7],[88,27.4],[97,27.9],[106,27.5],[107,24.8],[108,27.6],[115,27.9],[124,27.3],[133,27.7],[134,24.6],[135,27.5],[142,27.8],[151,27.3],[159,27.6],[160,24.7],[161,27.7],[168,27.4],[177,27.9],[186,27.5],[187,24.5],[188,27.6],[195,27.8],[204,27.3],[213,27.7],[214,24.6],[215,27.5],[222,27.9],[231,27.4],[240,27.6],[241,24.8],[242,27.7],[249,27.3],[258,27.8],[267,27.6],[268,24.5],[269,27.5],[276,27.9],[285,27.4],[294,27.7],[295,24.3],[296,27.6],[303,27.3],[312,27.8],[321,27.5],[322,24.6],[323,27.7],[330,27.9],[339,27.4],[348,27.6],[349,24.2],[350,27.5],[357,27.8],[366,27.3],[374,27.7],[375,24.0],[376,27.6],[383,27.4],[392,27.9],[401,27.5],[402,24.6],[403,27.7],[410,27.3],[419,27.8],[429,27.6],[430,24.4],[431,27.5],[438,27.9],[447,27.4],[455,27.7],[456,24.6],[457,27.6],[464,27.3],[473,27.8],[482,27.5],[483,24.2],[484,27.7],[491,27.9],[500,27.4],[509,27.6],[510,24.3],[511,27.5],[518,27.8],[527,27.3],[536,27.7],[537,24.3],[538,27.6],[545,27.4],[554,27.8],[562,27.6],
[565,36.8],[570,37.2],[576,36.9],[582,37.6],[588,37.0],[591,37.3],[592,35.0],[593,37.2],[600,37.8],[607,37.1],[614,37.5],[620,37.0],[621,35.0],[622,37.3],[630,37.6],[637,37.0],[643,37.4],[647,37.1],[648,34.3],[649,37.2],[656,37.5],[663,36.9],[669,37.4],[674,37.0],[675,34.0],[676,37.2],[684,37.6],[691,36.9],[698,37.4],[702,37.1],[703,35.0],[704,37.3],[711,37.7],[718,37.0],[725,37.4],[729,37.1],[730,35.0],[731,37.3],[738,37.6],[745,37.0],[752,37.5],[756,37.0],[757,35.0],[758,37.2],[765,37.6],[772,36.9],[779,37.4],[783,37.1],[784,35.0],[785,37.3],[792,37.5],[800,37.0]];
const wupEd2Hashed = [[1,3.4],[3,4.3],[12,4.0],[22,4.2],[30,3.9],[40,4.1],[52,4.0],[53,3.3],[54,4.0],[66,4.2],[79,3.9],[80,3.2],[81,4.0],[93,4.2],[106,3.9],[107,3.3],[108,4.0],[120,4.2],[133,3.9],[134,3.2],[135,4.0],[147,4.2],[159,3.9],[160,3.3],[161,4.0],[173,4.1],[186,3.9],[187,3.2],[188,4.0],[200,4.2],[213,3.9],[214,3.3],[215,4.0],[227,4.2],[240,3.9],[241,3.2],[242,4.0],[254,4.2],[267,3.9],[268,3.3],[269,4.0],[281,4.2],[294,3.9],[295,3.3],[296,4.0],[308,4.2],[321,3.9],[322,3.2],[323,4.0],[335,4.1],[348,3.9],[349,3.3],[350,4.0],[362,4.2],[374,3.9],[375,3.0],[376,4.0],[388,4.2],[401,3.9],[402,3.3],[403,4.0],[416,4.2],[429,3.9],[430,3.3],[431,4.0],[443,4.2],[455,3.9],[456,3.3],[457,4.0],[469,4.2],[482,3.9],[483,2.9],[484,4.0],[496,4.2],[509,3.9],[510,3.3],[511,4.0],[523,4.2],[536,3.9],[537,3.3],[538,4.0],[550,4.2],[563,4.0],[570,4.1],[580,3.9],[591,4.0],[592,3.3],[593,4.1],[597,4.8],[600,4.0],[610,4.2],[620,3.9],[621,3.3],[622,4.0],[635,4.2],[647,3.9],[648,3.3],[649,4.0],[662,4.2],[674,3.9],[675,3.2],[676,4.0],[690,4.2],[702,3.9],[703,3.3],[704,4.0],[717,4.2],[729,3.9],[730,3.3],[731,4.0],[744,4.2],[756,3.9],[757,3.3],[758,4.0],[771,4.2],[783,3.9],[784,3.3],[785,4.0],[800,4.1]];
const wupEd2Piecewise = [[1,5.0],[2,3.0],[8,3.2],[15,2.9],[22,3.0],[24,1.3],[30,1.5],[40,1.3],[52,1.4],[53,1.0],[54,1.4],[66,1.2],[79,1.4],[80,1.0],[81,1.3],[93,1.5],[106,1.3],[107,1.0],[108,1.4],[120,1.2],[133,1.4],[134,1.0],[135,1.3],[147,1.5],[159,1.3],[160,1.0],[161,1.4],[173,1.2],[186,1.4],[187,1.0],[188,1.3],[200,1.5],[213,1.3],[214,1.0],[215,1.4],[227,1.2],[240,1.4],[241,1.0],[242,1.3],[254,1.5],[267,1.3],[268,1.0],[269,1.4],[281,1.2],[294,1.4],[295,1.0],[296,1.3],[308,1.5],[321,1.3],[322,1.0],[323,1.4],[335,1.2],[348,1.4],[349,1.0],[350,1.3],[362,1.5],[374,1.3],[375,0.9],[376,1.4],[388,1.2],[401,1.4],[402,1.0],[403,1.3],[416,1.5],[429,1.3],[430,1.0],[431,1.4],[443,1.2],[455,1.4],[456,1.0],[457,1.3],[469,1.5],[482,1.3],[483,1.0],[484,1.4],[496,1.2],[509,1.4],[510,1.0],[511,1.3],[523,1.5],[536,1.3],[537,1.0],[538,1.4],[550,1.2],[562,1.3],[565,3.0],[572,3.2],[580,2.9],[591,3.1],[592,2.5],[593,3.0],[605,3.3],[620,2.9],[621,2.5],[622,3.1],[635,3.3],[647,2.9],[648,2.4],[649,3.0],[662,3.3],[674,2.9],[675,2.4],[676,3.1],[690,3.3],[702,2.9],[703,2.5],[704,3.0],[717,3.3],[729,2.9],[730,2.5],[731,3.1],[744,3.3],[756,2.9],[757,2.5],[758,3.0],[771,3.3],[783,2.9],[784,2.5],[785,3.1],[800,3.0]];

// ---------------- helpers ----------------
function zipXY(xs, ys) { return xs.map((x, i) => ({ x: x, y: ys[i] })); }
function pairs(a) { return a.map(p => ({ x: p[0], y: p[1] })); }

Chart.defaults.font.family = '"Liberation Sans", Arial, sans-serif';
Chart.defaults.color = '#000';

const framePlugin = {
  id: 'frameLegend',
  afterDraw(chart, args, opts) {
    const ctx = chart.ctx, a = chart.chartArea;
    ctx.save();
    ctx.strokeStyle = '#808080'; ctx.lineWidth = 1;
    const t = Math.round(a.top) + 0.5, r = Math.round(a.right) - 0.5;
    ctx.beginPath();
    ctx.moveTo(Math.round(a.left), t); ctx.lineTo(r, t); ctx.lineTo(r, Math.round(a.bottom));
    ctx.stroke();
    ctx.font = '17px "Liberation Sans", Arial, sans-serif';
    const lineLen = 13, gapLT = 5, itemGap = 9, padL = 4, padR = 4;
    const widths = seriesNames.map(n => ctx.measureText(n).width);
    let total = padL + padR;
    widths.forEach((w, i) => { total += lineLen + gapLT + w + (i ? itemGap : 0); });
    total = Math.round(total);
    const x0 = Math.round(opts.cx - total / 2), top = opts.top, bot = opts.bottom, cy = (top + bot) / 2;
    ctx.fillStyle = '#fff'; ctx.fillRect(x0, top, total, bot - top);
    ctx.strokeStyle = '#000'; ctx.lineWidth = 1; ctx.strokeRect(x0 + 0.5, top + 0.5, total, bot - top);
    let cx = x0 + padL;
    seriesNames.forEach((n, i) => {
      ctx.strokeStyle = colors[i]; ctx.lineWidth = 1.5;
      ctx.beginPath(); ctx.moveTo(cx, Math.round(cy) + 0.5); ctx.lineTo(cx + lineLen, Math.round(cy) + 0.5); ctx.stroke();
      cx += lineLen + gapLT;
      ctx.fillStyle = '#000'; ctx.textBaseline = 'middle'; ctx.textAlign = 'left';
      ctx.fillText(n, cx, cy + 1);
      cx += widths[i] + itemGap;
    });
    ctx.restore();
  }
};

const PANEL_W = 499, PANEL_H = 363;
function buildPanel(p) {
  const cv = document.createElement('canvas');
  cv.width = PANEL_W; cv.height = PANEL_H;
  cv.style.left = p.L + 'px'; cv.style.top = p.T + 'px';
  cv.style.width = PANEL_W + 'px'; cv.style.height = PANEL_H + 'px';
  document.body.appendChild(cv);
  const fr = document.createElement('div');
  fr.className = 'frame';
  fr.style.left = p.L + 'px'; fr.style.top = p.T + 'px';
  fr.style.width = PANEL_W + 'px'; fr.style.height = PANEL_H + 'px';
  document.body.appendChild(fr);
  const lhT = p.titleSize * 1.2;
  const xH = p.xTitleCy + 10.2 - p.plotBottom;
  const datasets = p.series.map((d, i) => ({
    label: seriesNames[i], data: d, borderColor: colors[i], backgroundColor: colors[i],
    borderWidth: 1, pointRadius: 0, pointHoverRadius: 0, fill: false, tension: 0, order: 2 - i
  }));
  new Chart(cv, {
    type: 'line',
    data: { datasets: datasets },
    options: {
      responsive: false, animation: false, devicePixelRatio: 1, events: [],
      layout: { padding: { left: 0, top: 0, right: PANEL_W - 492, bottom: PANEL_H - p.plotBottom - xH } },
      plugins: {
        legend: { display: false }, tooltip: { enabled: false },
        title: { display: true, text: p.title, color: '#000', font: { size: p.titleSize, weight: 'bold' },
          padding: { top: p.titleCy - lhT / 2, bottom: p.plotTop - p.titleCy - lhT / 2 } },
        frameLegend: { cx: p.legCx, top: p.legTop, bottom: p.legBottom }
      },
      scales: {
        x: { type: 'linear', min: 1, max: 800,
          afterBuildTicks: (ax) => { ax.ticks = xTickValues.map(v => ({ value: v })); },
          afterFit: (ax) => { ax.height = xH; },
          ticks: { autoSkip: false, maxRotation: 0, minRotation: 0, color: '#000', font: { size: 17 },
            padding: p.xLabelCy - p.plotBottom - 5 - 10.2,
            callback: (v, i) => xTickLabels[i] },
          grid: { drawOnChartArea: false, drawTicks: true, tickLength: 5, color: '#000', lineWidth: 1 },
          border: { display: true, color: '#000', width: 1 },
          title: { display: true, text: '1M instructions', color: '#000', font: { size: 17 }, padding: 0 } },
        y: { type: 'linear', min: p.yTicks[0], max: p.yTicks[p.yTicks.length - 1],
          afterBuildTicks: (ax) => { ax.ticks = p.yTicks.map(v => ({ value: v })); },
          afterFit: (ax) => { ax.width = p.plotLeft; },
          ticks: { autoSkip: false, color: '#000', font: { size: 17 },
            padding: p.plotLeft - 5 - p.yLabelRight,
            callback: (v, i) => p.yLabels[i] },
          grid: { drawOnChartArea: true, drawTicks: true, tickLength: 5, color: '#000', lineWidth: 1 },
          border: { display: true, color: '#000', width: 1 },
          title: { display: true, text: 'Pct Diff from O-GEHL', color: '#000', font: { size: 18 },
            padding: { top: p.yTitleCx - 10.8, bottom: 0 } } }
      }
    },
    plugins: [framePlugin]
  });
}

const panels = [
  { L: 8, T: 68, title: 'mesa - IPC - Pct Diff from O-GEHL', titleSize: 17, titleCy: 24, plotTop: 66, plotBottom: 259, plotLeft: 105, yLabelRight: 91, yTitleCx: 20, xLabelCy: 286, xTitleCy: 316, legTop: 337, legBottom: 361, legCx: 298,
    yTicks: mesaIpcYTicks, yLabels: mesaIpcYLabels, series: [pairs(mesaIpcBimod), zipXY(mesaX, mesaIpcHashed), zipXY(mesaX, mesaIpcPiecewise)] },
  { L: 539, T: 68, title: 'mesa - ED2 - Pct Diff from O-GEHL', titleSize: 12, titleCy: 18, plotTop: 57, plotBottom: 259, plotLeft: 99, yLabelRight: 86, yTitleCx: 21, xLabelCy: 286, xTitleCy: 316, legTop: 336, legBottom: 361, legCx: 296,
    yTicks: mesaEd2YTicks, yLabels: mesaEd2YLabels, series: [pairs(mesaEd2Bimod), zipXY(mesaX, mesaEd2Hashed), zipXY(mesaX, mesaEd2Piecewise)] },
  { L: 8, T: 453, title: 'mgrid - IPC - Pct Diff from O-GEHL', titleSize: 17, titleCy: 23, plotTop: 67, plotBottom: 259, plotLeft: 95, yLabelRight: 82, yTitleCx: 20, xLabelCy: 286, xTitleCy: 316, legTop: 337, legBottom: 361, legCx: 293,
    yTicks: mgridIpcYTicks, yLabels: mgridIpcYLabels, series: [pairs(mgridIpcBimod), pairs(mgridIpcHashed), pairs(mgridIpcPiecewise)] },
  { L: 539, T: 453, title: 'mgrid - ED2 - Pct Diff from O-GEHL', titleSize: 17, titleCy: 23, plotTop: 67, plotBottom: 259, plotLeft: 95, yLabelRight: 82, yTitleCx: 21, xLabelCy: 286, xTitleCy: 316, legTop: 337, legBottom: 361, legCx: 294,
    yTicks: mgridEd2YTicks, yLabels: mgridEd2YLabels, series: [pairs(mgridEd2Bimod), pairs(mgridEd2Hashed), pairs(mgridEd2Piecewise)] },
  { L: 8, T: 838, title: 'swim - IPC - Pct Diff from O-GEHL', titleSize: 17, titleCy: 24, plotTop: 67, plotBottom: 259, plotLeft: 95, yLabelRight: 82, yTitleCx: 20, xLabelCy: 286, xTitleCy: 316, legTop: 337, legBottom: 361, legCx: 293,
    yTicks: swimIpcYTicks, yLabels: swimIpcYLabels, series: [pairs(swimIpcBimod), pairs(swimIpcHashed), pairs(swimIpcPiecewise)] },
  { L: 539, T: 838, title: 'swim - ED2 - Pct Diff from O-GEHL', titleSize: 17, titleCy: 24, plotTop: 67, plotBottom: 259, plotLeft: 95, yLabelRight: 82, yTitleCx: 21, xLabelCy: 286, xTitleCy: 316, legTop: 337, legBottom: 361, legCx: 294,
    yTicks: swimEd2YTicks, yLabels: swimEd2YLabels, series: [pairs(swimEd2Bimod), pairs(swimEd2Hashed), pairs(swimEd2Piecewise)] },
  { L: 8, T: 1224, title: 'wupwise - IPC - Pct Diff from O-GEHL', titleSize: 17, titleCy: 23, plotTop: 66, plotBottom: 259, plotLeft: 105, yLabelRight: 91, yTitleCx: 20, xLabelCy: 286, xTitleCy: 316, legTop: 337, legBottom: 361, legCx: 298,
    yTicks: wupIpcYTicks, yLabels: wupIpcYLabels, series: [pairs(wupIpcBimod), pairs(wupIpcHashed), pairs(wupIpcPiecewise)] },
  { L: 539, T: 1224, title: 'wupwise - ED2 - Pct Diff from O-GEHL', titleSize: 17, titleCy: 22, plotTop: 66, plotBottom: 253, plotLeft: 121, yLabelRight: 108, yTitleCx: 41, xLabelCy: 280, xTitleCy: 310, legTop: 335, legBottom: 359, legCx: 309,
    yTicks: wupEd2YTicks, yLabels: wupEd2YLabels, series: [pairs(wupEd2Bimod), pairs(wupEd2Hashed), pairs(wupEd2Piecewise)] }
];
panels.forEach(buildPanel);
</script>
</body></html>
